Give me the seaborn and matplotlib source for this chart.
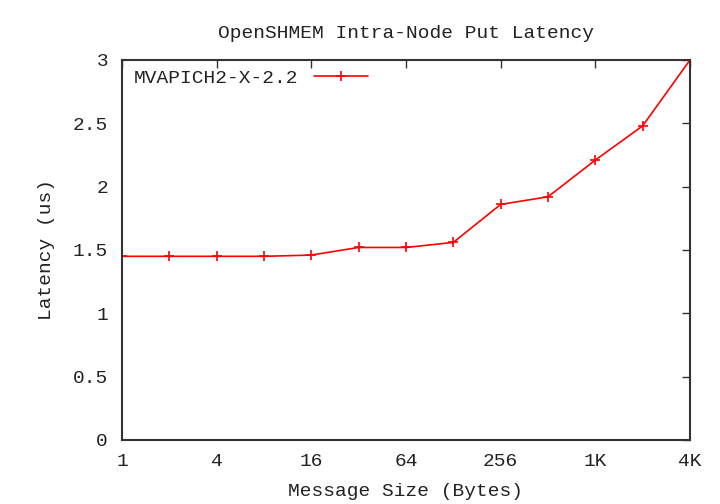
import matplotlib
matplotlib.use("Agg")
import matplotlib.pyplot as plt
import seaborn as sns
import pandas as pd

sizes = [1, 2, 4, 8, 16, 32, 64, 128, 256, 512, 1024, 2048, 4096]
latency = [1.45, 1.45, 1.45, 1.45, 1.46, 1.52, 1.52, 1.56, 1.86, 1.92, 2.21, 2.48, 3.00]
series_name = "MVAPICH2-X-2.2"
xtick_vals = [1, 4, 16, 64, 256, 1024, 4096]
xtick_labels = ["1", "4", "16", "64", "256", "1K", "4K"]
ytick_vals = [0, 0.5, 1, 1.5, 2, 2.5, 3]
ytick_labels = ["0", "0.5", "1", "1.5", "2", "2.5", "3"]

sns.set_style("white")
plt.rcParams['font.family'] = ['Liberation Mono', 'DejaVu Sans Mono']

df = pd.DataFrame({"size": sizes, "lat": latency, "series": series_name})

fig = plt.figure(figsize=(7.2, 5.04), dpi=100)
ax = fig.add_axes([122/720, 64/504, 568/720, 380/504])

sns.lineplot(data=df, x="size", y="lat", hue="series", palette=["#ff0000"],
             marker="+", markersize=7, markeredgewidth=1.2, linewidth=1.2,
             markeredgecolor="#ff0000", ax=ax, legend=True)

ax.set_xscale("log", base=2)
ax.set_xlim(1, 4096)
ax.set_ylim(0, 3)
ax.set_xticks(xtick_vals)
ax.set_xticklabels(xtick_labels)
ax.set_yticks(ytick_vals)
ax.set_yticklabels(ytick_labels)
ax.minorticks_off()
ax.tick_params(direction="in", length=6, width=1, color="#333333",
               top=True, right=True, labelsize=14, labelcolor="#222222")
ax.tick_params(axis="x", pad=9)
ax.tick_params(axis="y", pad=10)
for s in ax.spines.values():
    s.set_color("#333333")
    s.set_linewidth(1.5)

ax.set_xlabel("Message Size (Bytes)", fontsize=14, color="#222222", labelpad=10)
ax.set_ylabel("Latency (us)", fontsize=14, color="#222222", labelpad=13)
ax.set_title("OpenSHMEM Intra-Node Put Latency", fontsize=14, color="#222222", pad=16)

leg = ax.legend(loc="upper left", frameon=False, markerfirst=False, fontsize=14,
                handlelength=2.8, borderaxespad=0.1,
                bbox_to_anchor=(0.004, 1.002))
for t in leg.get_texts():
    t.set_color("#222222")
for h in leg.legend_handles:
    h.set_markeredgecolor("#ff0000")

fig.savefig("out.png", dpi=100)
